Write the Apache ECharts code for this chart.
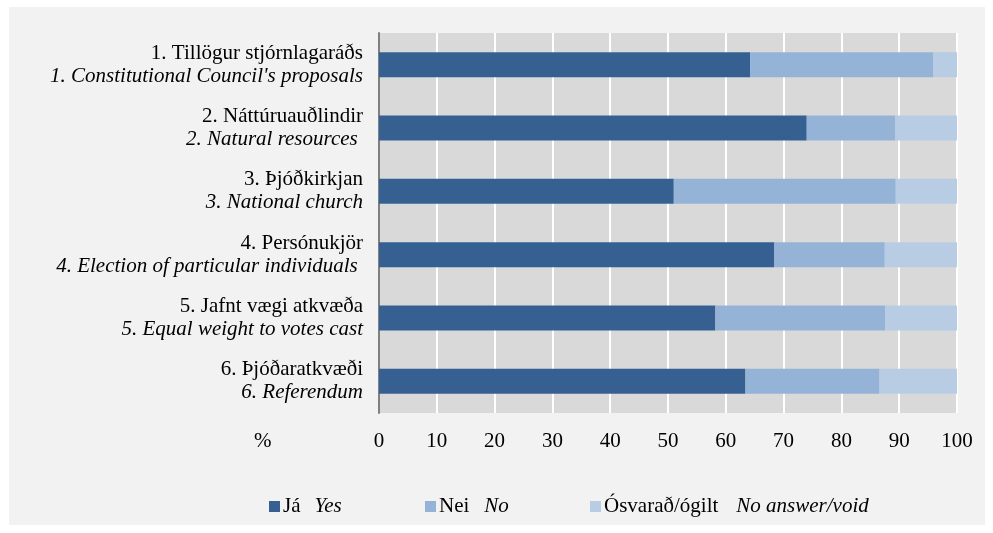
<!DOCTYPE html>
<html><head><meta charset="utf-8">
<script src="https://cdn.jsdelivr.net/npm/echarts@6/dist/echarts.min.js"></script>
<style>html,body{margin:0;padding:0;background:#fff}#c{width:993px;height:533px}</style>
</head><body><div id="c"></div>
<script>
const catIs = ["1. Tillögur stjórnlagaráðs","2. Náttúruauðlindir","3. Þjóðkirkjan","4. Persónukjör","5. Jafnt vægi atkvæða","6. Þjóðaratkvæði"];
const catEn = ["1. Constitutional Council's proposals","2. Natural resources ","3. National church","4. Election of particular individuals ","5. Equal weight to votes cast","6. Referendum"];
const yes = [64.2, 74.0, 51.0, 68.4, 58.2, 63.4];
const no = [31.7, 15.3, 38.4, 19.1, 29.4, 23.2];
const voidv = [4.1, 10.7, 10.6, 12.5, 12.4, 13.4];
const seriesIs = ["Já", "Nei", "Ósvarað/ógilt"];
const seriesEn = ["Yes", "No", "No answer/void"];
const xTicks = [0,10,20,30,40,50,60,70,80,90,100];

const font = "'Liberation Serif','Times New Roman',serif";
const fs = 21;
const colors = ["#366092", "#95B3D7", "#B8CCE4"];
const cats = catIs.map((c, i) => c + "|" + catEn[i]);
const chart = echarts.init(document.getElementById('c'));
const legendLefts = [264, 420, 585];
const gaps = [14, 15, 18];
const mkLegend = (i) => ({
  data: [seriesIs[i] + "|" + seriesEn[i]],
  left: legendLefts[i], top: 491, itemWidth: 11, itemHeight: 11, itemGap: 0,
  icon: 'rect', selectedMode: false,
  formatter: (n) => { const p = n.split("|"); return "{a|" + p[0] + "}{g|}{b|" + p[1] + "}"; },
  textStyle: { fontFamily: font, fontSize: fs, color: '#000', padding: [0,0,0,-2],
    rich: { a: { fontFamily: font, fontSize: fs, color: '#000' }, g: { width: gaps[i] }, b: { fontFamily: font, fontSize: fs, fontStyle: 'italic', color: '#000' } } }
});
chart.setOption({
  backgroundColor: '#fff',
  animation: false,
  graphic: [
    { type: 'rect', z: -10, shape: { x: 9, y: 7, width: 976, height: 518 }, style: { fill: '#F2F2F2' } },
    { type: 'text', left: 254, top: 431, style: { text: '%', font: fs + 'px ' + font, fill: '#000' } }
  ],
  legend: [mkLegend(0), mkLegend(1), mkLegend(2)],
  grid: { left: 379, right: 36, top: 33, bottom: 120, show: true, backgroundColor: '#D9D9D9', borderWidth: 0, containLabel: false },
  xAxis: {
    type: 'value', min: 0, max: 100, interval: 10,
    axisLine: { show: false }, axisTick: { show: false },
    splitLine: { show: true, lineStyle: { color: '#fff', width: 2 } },
    axisLabel: { fontFamily: font, fontSize: fs, color: '#000', margin: 18,
      formatter: (v) => xTicks.includes(v) ? String(v) : '' }
  },
  yAxis: {
    type: 'category', data: cats, inverse: true,
    axisLine: { show: true, lineStyle: { color: '#808080', width: 2 } },
    axisTick: { show: false },
    axisLabel: { margin: 16, lineHeight: 23,
      formatter: (v) => { const p = v.split("|"); return "{a|" + p[0] + "}\n{b|" + p[1] + "}"; },
      rich: { a: { fontFamily: font, fontSize: fs, color: '#000', lineHeight: 23, align: 'right' },
              b: { fontFamily: font, fontSize: fs, fontStyle: 'italic', color: '#000', lineHeight: 23, align: 'right' } } }
  },
  series: [yes, no, voidv].map((d, i) => ({
    name: seriesIs[i] + "|" + seriesEn[i], type: 'bar', stack: 't', data: d, barWidth: 25,
    itemStyle: { color: colors[i] }
  }))
});
</script></body></html>
